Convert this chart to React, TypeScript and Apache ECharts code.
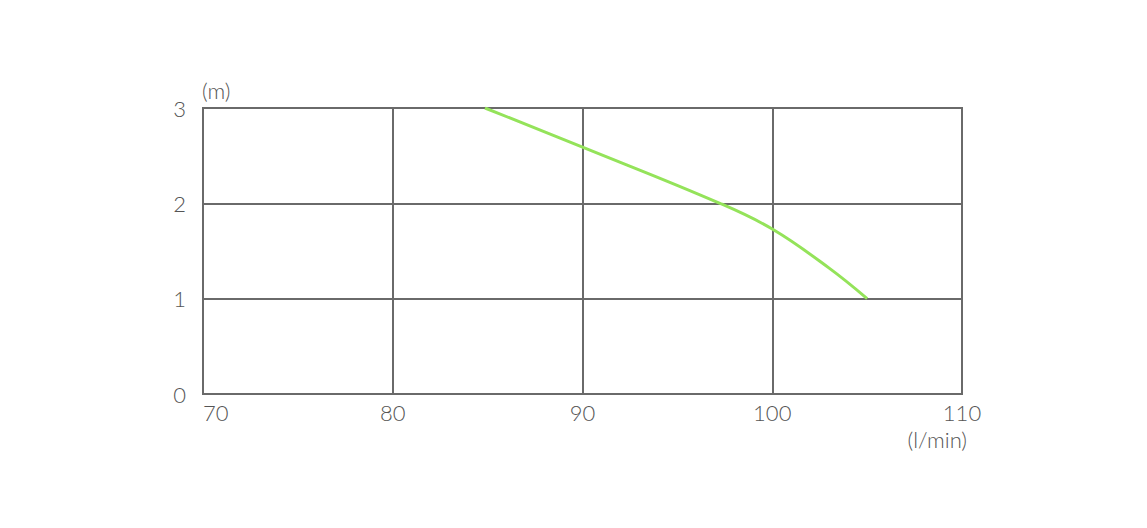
import React, { useEffect, useRef } from "react";
import * as echarts from "echarts";

const flowValues = [84.86, 90, 97.24, 100, 103, 105.0];
const headValues = [3.0, 2.59, 2.0, 1.73, 1.32, 1.0];
const xTicks = [70, 80, 90, 100, 110];
const yTicks = [0, 1, 2, 3];
const yUnit = "(m)";
const xUnit = "(l/min)";

export default function App() {
  const ref = useRef<HTMLDivElement>(null);
  useEffect(() => {
    document.body.style.margin = "0";
    const chart = echarts.init(ref.current!, null, { renderer: "svg" });
    const grey = "#6a6a6a";
    const labelColor = "#555555";
    const font = "Lato";
    chart.setOption({
      animation: false,
      backgroundColor: "#ffffff",
      grid: {
        left: 203,
        top: 108,
        right: 185,
        bottom: 134,
        show: true,
        borderColor: grey,
        borderWidth: 2,
      },
      xAxis: {
        type: "value",
        min: xTicks[0],
        max: xTicks[xTicks.length - 1],
        interval: 10,
        axisLine: { show: true, lineStyle: { color: grey, width: 2 } },
        axisTick: { show: false },
        splitLine: { show: true, lineStyle: { color: grey, width: 2 } },
        axisLabel: {
          color: labelColor,
          fontSize: 22,
          fontWeight: 300,
          fontFamily: font,
          margin: 7,
          alignMinLabel: "left",
        },
      },
      yAxis: {
        type: "value",
        min: yTicks[0],
        max: yTicks[yTicks.length - 1],
        interval: 1,
        axisLine: { show: true, lineStyle: { color: grey, width: 2 } },
        axisTick: { show: false },
        splitLine: { show: true, lineStyle: { color: grey, width: 2 } },
        axisLabel: {
          color: labelColor,
          fontSize: 22,
          fontWeight: 300,
          fontFamily: font,
          margin: 17,
        },
      },
      graphic: [
        {
          type: "text",
          x: 202,
          y: 90,
          style: {
            text: yUnit,
            fill: labelColor,
            fontSize: 22,
            fontWeight: 300,
            fontFamily: font,
            verticalAlign: "middle",
            align: "left",
          },
        },
        {
          type: "text",
          x: 967,
          y: 439,
          style: {
            text: xUnit,
            fill: labelColor,
            fontSize: 22,
            fontWeight: 300,
            fontFamily: font,
            verticalAlign: "middle",
            align: "right",
          },
        },
      ],
      series: [
        {
          type: "line",
          data: flowValues.map((f, i) => [f, headValues[i]]),
          smooth: 0.4,
          showSymbol: false,
          lineStyle: { color: "#94e35a", width: 3 },
        },
      ],
    });
    return () => chart.dispose();
  }, []);
  return <div ref={ref} style={{ width: 1147, height: 528 }} />;
}
